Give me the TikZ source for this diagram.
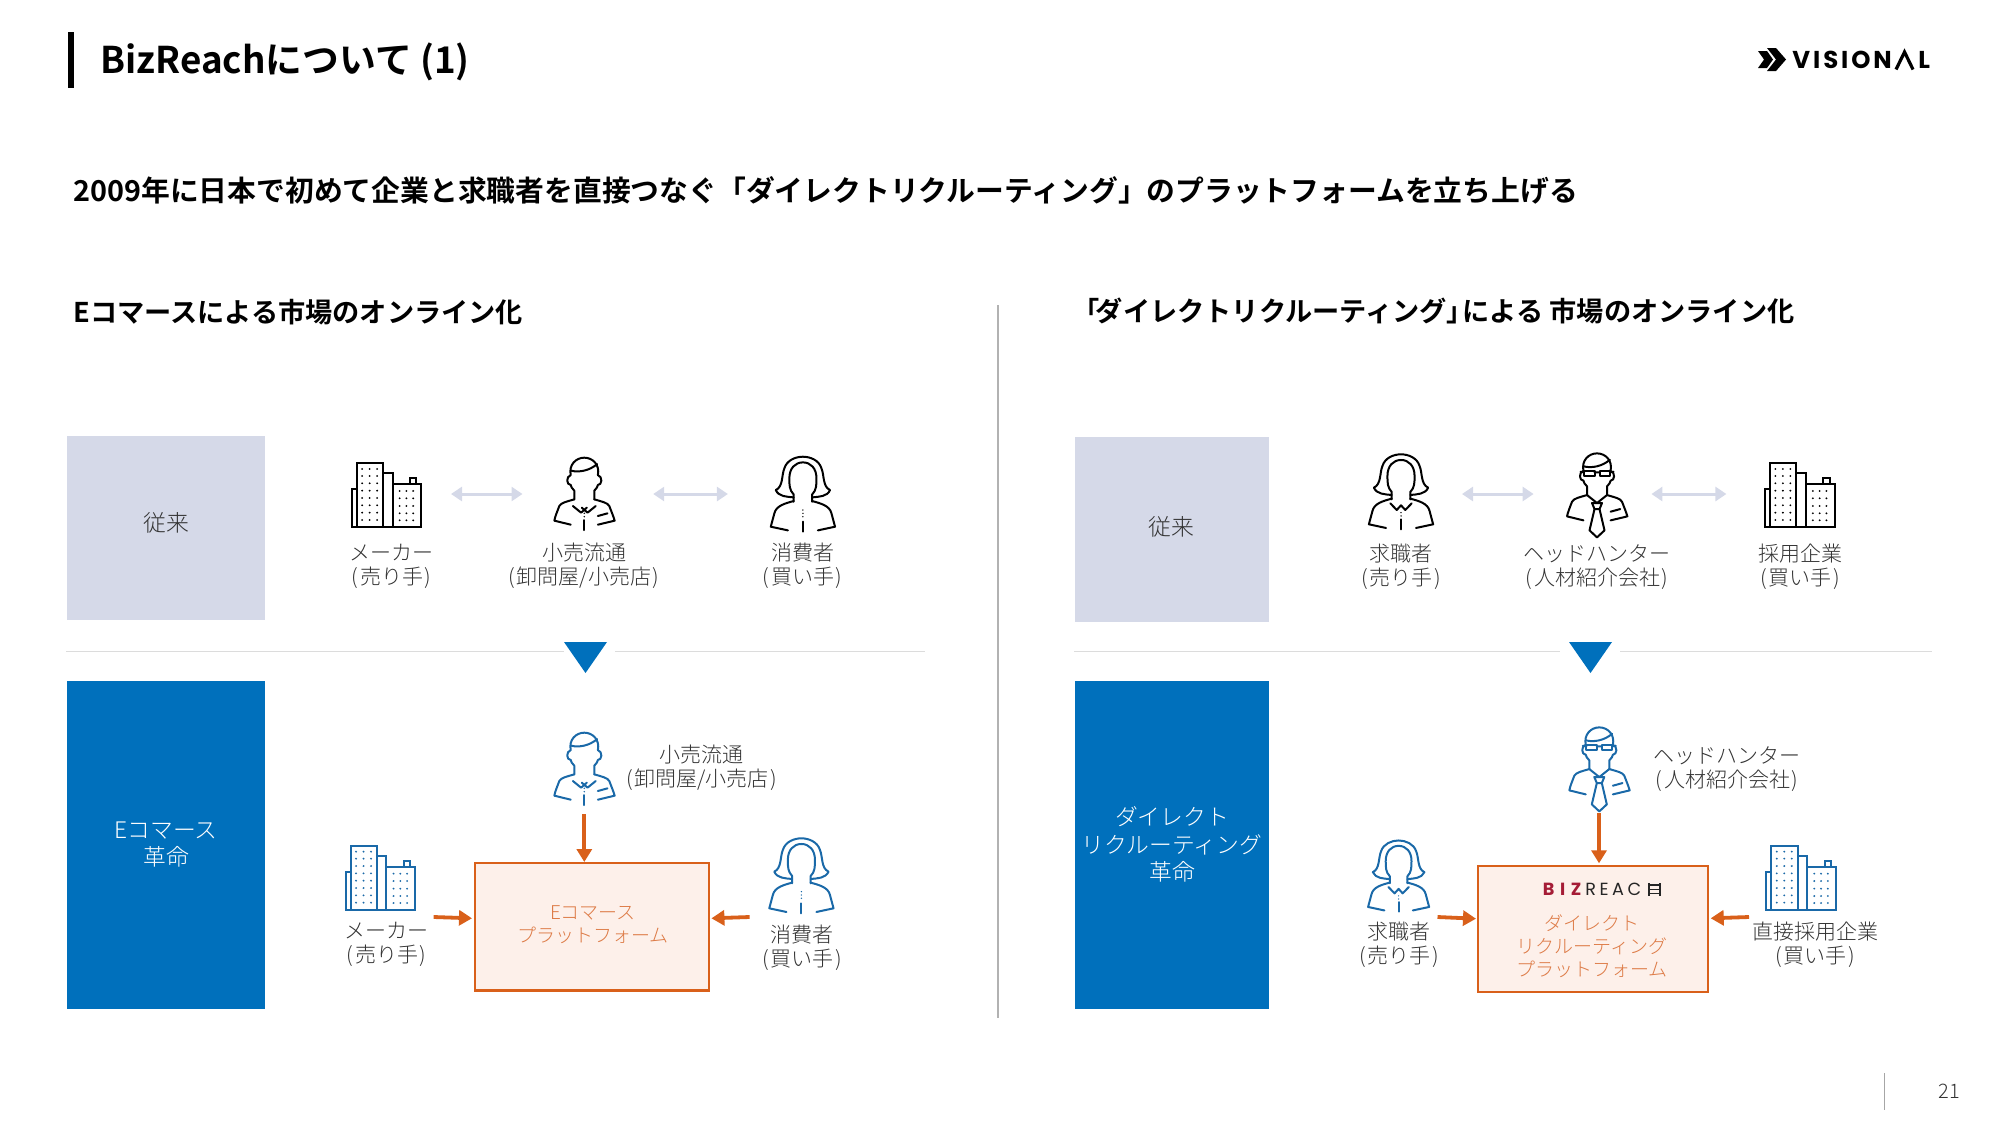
\documentclass[tikz,border=0pt]{standalone}
\usepackage{fontspec}
\usetikzlibrary{arrows.meta}
\setmainfont{Noto Sans CJK JP}
\newfontfamily\jpl{Noto Sans CJK JP Light}
\newfontfamily\jpb{Noto Sans CJK JP Bold}
\newfontfamily\logofont[LetterSpace=12]{Poppins}
\newfontfamily\bizfont[LetterSpace=20]{Poppins}
\newfontfamily\bizredfont[LetterSpace=32]{Poppins}
\newcommand{\lp}{(\kern.8pt}
\newcommand{\rp}{\kern.8pt)}
\definecolor{lightbox}{HTML}{D5D9E8}
\definecolor{bluebox}{HTML}{0070BC}
\definecolor{iconblue}{HTML}{1A69A8}
\definecolor{orangeline}{HTML}{D9601A}
\definecolor{orangetext}{HTML}{DD7A45}
\definecolor{orangefill}{HTML}{FDF0EA}
\definecolor{labeltext}{HTML}{333333}
\definecolor{rulegray}{HTML}{DCDCDC}
\definecolor{bizred}{HTML}{A51C36}
\newcommand{\headshape}[1]{%
  \draw (-28,-92) -- (-28,-118) .. controls (-34,-125) and (-38,-130) .. (-38,-135)
    .. controls (-50,-135) and (-52,-160) .. (-38,-165)
    .. controls (-44,-195) and (-24,-217) .. (0,-217)
    .. controls (24,-217) and (44,-195) .. (38,-165)
    .. controls (52,-160) and (50,-135) .. (38,-135)
    .. controls (38,-130) and (34,-125) .. (28,-118) -- (28,-92);
  \draw (-37,-178) .. controls (-15,-172) and (15,-178) .. (#1,-198);
}
\newcommand{\manbody}{%
  \draw (-28,-92) .. controls (-50,-85) and (-65,-82) .. (-70,-72)
    .. controls (-76,-55) and (-82,-40) .. (-84,-28) -- (-38,-16);
  \draw (28,-92) .. controls (50,-85) and (65,-82) .. (70,-72)
    .. controls (76,-55) and (82,-40) .. (85,-28) -- (38,-16);
  \draw (38,-42) -- (65,-50);
}
\newcommand{\womanshape}{%
  \draw (-26,-103) .. controls (-45,-105) and (-68,-105) .. (-76,-125)
    .. controls (-55,-135) and (-60,-170) .. (-52,-190)
    .. controls (-45,-215) and (-20,-225) .. (0,-225)
    .. controls (20,-225) and (45,-215) .. (52,-190)
    .. controls (60,-170) and (55,-135) .. (76,-125)
    .. controls (68,-105) and (45,-105) .. (26,-103);
  \draw (-26,-90) -- (-26,-112) .. controls (-38,-125) and (-38,-140) .. (-38,-160)
    .. controls (-38,-190) and (-22,-208) .. (0,-208)
    .. controls (22,-208) and (38,-190) .. (38,-160)
    .. controls (38,-140) and (38,-125) .. (26,-112) -- (26,-90);
  \draw (-26,-92) .. controls (-50,-85) and (-75,-78) .. (-80,-55) -- (-90,-15) -- (-42,-4);
  \draw (26,-92) .. controls (50,-85) and (75,-78) .. (80,-55) -- (90,-15) -- (42,-4);
}
\tikzset{
  x=0.5pt,y=-0.5pt,
  lbl/.style={align=center,text=labeltext,inner sep=0pt,font=\jpl\fontsize{10.5}{12}\selectfont},
  orangelbl/.style={align=center,text=orangetext,inner sep=0pt,font=\jpl\fontsize{9.5}{11.6}\selectfont},
  sidelbl/.style={align=center,text=#1,inner sep=0pt,font=\jpl\fontsize{11.4}{13.8}\selectfont},
  heading/.style={anchor=west,inner sep=0pt,text=black,font=\jpb\fontsize{13.6}{16}\selectfont},
  softarrow/.style={draw=lightbox,line width=1.5pt,{Triangle[length=5.5pt,width=7pt]}-{Triangle[length=5.5pt,width=7pt]}},
  hotarrow/.style={draw=orangeline,line width=1.9pt,-{Triangle[length=6.5pt,width=7.5pt]}},
  platform/.style={draw=orangeline,fill=orangefill,line width=1.2pt},
  iconline/.style={line width=1pt,line join=round,line cap=round},
  iconscale/.style={xscale=.357,yscale=.3333},
  pics/building/.style={code={
    \begin{scope}[iconscale,line width=1pt,line join=miter]
      \draw (0,0) rectangle (14,-114);
      \draw[fill=white] (14,0) rectangle (88,-192);
      \draw (88,0) rectangle (114,-162);
      \draw (114,0) rectangle (195,-129);
      \draw (163,-129) rectangle (181,-147);
      \foreach \cx in {29,50,71}\foreach \cy in {-175,-154,-132,-110,-88,-66,-44,-22}
        \fill (\cx,\cy) circle (3);
      \foreach \cx in {134,153,172}\foreach \cy in {-109,-87,-64,-42,-21}
        \fill (\cx,\cy) circle (3);
    \end{scope}}},
  pics/manshirt/.style={code={
    \begin{scope}[iconscale,iconline]
      \headshape{36}\manbody
      \draw (-32,-72) -- (-9,-52) -- (7,-67);
      \draw (32,-72) -- (9,-52) -- (-7,-67);
      \draw (0,-30) -- (0,0);
      \fill (0,-50) circle (2.4) (0,-40) circle (2.4);
    \end{scope}}},
  pics/mantie/.style={code={
    \begin{scope}[iconscale,iconline]
      \headshape{36}
      \draw (-36,-165) -- (-36,-150) -- (-7,-150) -- (-7,-165) -- cycle;
      \draw (36,-165) -- (36,-150) -- (7,-150) -- (7,-165) -- cycle;
      \draw (-7,-160) -- (7,-160) (-36,-160) -- (-46,-162) (36,-160) -- (46,-162);
      \manbody
      \draw (-28,-92) -- (0,-68) -- (28,-92);
      \draw (-14,-68) -- (14,-68) -- (7,-50) -- (-7,-50) -- cycle;
      \draw (-7,-50) -- (-21,14) -- (0,35) -- (21,14) -- (7,-50);
    \end{scope}}},
  pics/womanplain/.style={code={
    \begin{scope}[iconscale,iconline]
      \womanshape
      \draw (0,-30) -- (0,0);
      \fill (0,-65) circle (2.2) (0,-55) circle (2.2) (0,-45) circle (2.2);
    \end{scope}}},
  pics/womancollar/.style={code={
    \begin{scope}[iconscale,iconline]
      \womanshape
      \draw (-30,-78) -- (-12,-58) -- (0,-72) -- (12,-58) -- (30,-78);
      \draw (0,-30) -- (0,0);
      \fill (0,-50) circle (2.2) (0,-40) circle (2.2);
    \end{scope}}},
}
\begin{document}
\begin{tikzpicture}
\useasboundingbox (0,0) rectangle (2000,1125);
% header
\fill[black] (68,32) rectangle (74,88);
\node[anchor=west,inner sep=0pt,font=\jpb\fontsize{18.4}{22}\selectfont] (title) at (100,62) {BizReachについて (1)};
% logo
\fill[black] (1758,51) -- (1767,51) -- (1773,59.5) -- (1767,68) -- (1758,68) -- (1764,59.5) -- cycle;
\fill[black] (1767,48) -- (1776,48) -- (1786,59.5) -- (1776,71) -- (1767,71) -- (1776,59.5) -- cycle;
\node[anchor=west,inner sep=0pt,font=\logofont\bfseries\fontsize{12.2}{14}\selectfont] (logoa) at (1792,60) {VISION};
\draw[line width=1.6pt,line join=miter] (1896,69.5) -- (1904.5,52) -- (1913,69.5);
\node[anchor=west,inner sep=0pt,font=\logofont\bfseries\fontsize{12.2}{14}\selectfont] (logob) at (1918,60) {L};
\node[heading,font=\jpb\fontsize{14.4}{17}\selectfont] (sub) at (73,190) {2009年に日本で初めて企業と求職者を直接つなぐ「ダイレクトリクルーティング」のプラットフォームを立ち上げる};
\node[heading] (hl) at (73,312.5) {Eコマースによる市場のオンライン化};
\node[heading] (hr) at (1072,311) {「\kern-1.9ptダイレクトリクルーティング」\kern-5.7ptによる 市場のオンライン化};
% divider and rules
\coordinate (dt) at (998,305); \coordinate (db) at (998,1018);
\draw[draw=black!30,line width=.7pt] (dt) -- (db);
\coordinate (r1a) at (66,651.5); \coordinate (r1b) at (564,651.5);
\coordinate (r2a) at (615,651.5); \coordinate (r2b) at (925,651.5);
\coordinate (r3a) at (1074,651.5); \coordinate (r3b) at (1560,651.5);
\coordinate (r4a) at (1620,651.5); \coordinate (r4b) at (1932,651.5);
\draw[rulegray,line width=.6pt] (r1a) -- (r1b) (r2a) -- (r2b) (r3a) -- (r3b) (r4a) -- (r4b);
\fill[bluebox] (564,642) -- (607,642) -- (585.5,673) -- cycle;
\fill[bluebox] (1569,642) -- (1612,642) -- (1590.5,673) -- cycle;
% side boxes
\fill[lightbox] (67,436) rectangle (265,620);
\fill[lightbox] (1075,437) rectangle (1269,622);
\fill[bluebox] (67,681) rectangle (265,1009);
\fill[bluebox] (1075,681) rectangle (1269,1009);
\node[sidelbl=labeltext] (s1) at (166,523) {従来};
\node[sidelbl=labeltext] (s2) at (1171,526.5) {従来};
\node[sidelbl=white] (s3) at (166,844.5) {Eコマース\\革命};
\node[sidelbl=white] (s4) at (1172,844.5) {ダイレクト\\リクルーティング\\革命};
% top-left icons
\pic[color=black] at (351.8,527.3) {building};
\pic[color=black] at (584.3,530) {manshirt};
\pic[color=black] at (802.9,531.7) {womanplain};
\node[lbl] (t1) at (391.6,566) {メーカー\\\lp 売り手\rp};
\node[lbl] (t2) at (584,566) {小売流通\\\lp 卸問屋/小売店\rp};
\node[lbl] (t3) at (802.5,566) {消費者\\\lp 買い手\rp};
\coordinate (a1) at (451,494); \coordinate (a2) at (522.5,494);
\coordinate (a3) at (653.2,494); \coordinate (a4) at (727.9,494);
\draw[softarrow] (a1) -- (a2);
\draw[softarrow] (a3) -- (a4);
% top-right icons
\pic[color=black] at (1401,529.3) {womancollar};
\pic[color=black] at (1597,525.7) {mantie};
\pic[color=black] at (1765,527.3) {building};
\node[lbl] (t4) at (1401,567) {求職者\\\lp 売り手\rp};
\node[lbl] (t5) at (1597,567) {ヘッドハンター\\\lp 人材紹介会社\rp};
\node[lbl] (t6) at (1800,567) {採用企業\\\lp 買い手\rp};
\coordinate (a5) at (1462,494); \coordinate (a6) at (1533.6,494);
\coordinate (a7) at (1651.4,494); \coordinate (a8) at (1726.4,494);
\draw[softarrow] (a5) -- (a6);
\draw[softarrow] (a7) -- (a8);
% bottom-left
\node[platform,minimum width=117.2pt,minimum height=63.8pt,inner sep=0pt] (p1) at (592,926.5) {};
\node[orangelbl] (p1t) at (593,925) {Eコマース\\プラットフォーム};
\pic[color=iconblue] at (345.7,910) {building};
\pic[color=iconblue] at (584.3,805) {manshirt};
\pic[color=iconblue] at (801.4,913.3) {womanplain};
\node[lbl] (b1) at (701.5,768) {小売流通\\\lp 卸問屋/小売店\rp};
\node[lbl] (b2) at (386.5,944) {メーカー\\\lp 売り手\rp};
\node[lbl] (b3) at (802,947.5) {消費者\\\lp 買い手\rp};
\coordinate (c1) at (584.3,814); \coordinate (c2) at (584.3,862);
\coordinate (c3) at (433.6,917); \coordinate (c4) at (472,918.3);
\coordinate (c5) at (749.6,917); \coordinate (c6) at (711.4,918.3);
\draw[hotarrow] (c1) -- (c2);
\draw[hotarrow] (c3) -- (c4);
\draw[hotarrow] (c5) -- (c6);
% bottom-right
\node[platform,minimum width=115pt,minimum height=63.2pt,inner sep=0pt] (p2) at (1593,929) {};
\node[orangelbl] (p2t) at (1592,946) {ダイレクト\\リクルーティング\\プラットフォーム};
\pic[color=iconblue] at (1766.4,910) {building};
\pic[color=iconblue] at (1599.3,799.7) {mantie};
\pic[color=iconblue,scale=.95] at (1398.6,911.7) {womancollar};
\node[lbl] (b4) at (1727,769) {ヘッドハンター\\\lp 人材紹介会社\rp};
\node[lbl] (b5) at (1399,944.5) {求職者\\\lp 売り手\rp};
\node[lbl] (b6) at (1815,945) {直接採用企業\\\lp 買い手\rp};
\coordinate (d1) at (1599,812.7); \coordinate (d2) at (1599,863.3);
\coordinate (d3) at (1437.5,917); \coordinate (d4) at (1476,918.7);
\coordinate (d5) at (1749,917); \coordinate (d6) at (1710.7,918.3);
\draw[hotarrow] (d1) -- (d2);
\draw[hotarrow] (d3) -- (d4);
\draw[hotarrow] (d5) -- (d6);
% BizReach logo
\node[anchor=west,inner sep=0pt,text=bizred,font=\bizredfont\bfseries\fontsize{8.8}{10}\selectfont] (biz) at (1542.5,889.5) {BIZ};
\node[anchor=west,inner sep=0pt,text=black!85,font=\bizfont\fontsize{8.8}{10}\selectfont] (reac) at (1585,889.5) {REAC};
\draw[black!85,line width=.7pt] (1649,883) -- (1649,896) (1660,883) -- (1660,896)
  (1649,885) -- (1660,885) (1649,889.5) -- (1660,889.5) (1649,893.5) -- (1660,893.5);
% page number
\coordinate (n1) at (1884,1073); \coordinate (n2) at (1884,1110);
\draw[black!35,line width=.5pt] (n1) -- (n2);
\node[inner sep=0pt,text=labeltext,font=\jpl\fontsize{10}{12}\selectfont] (pg) at (1949,1091) {21};
\end{tikzpicture}
\end{document}
